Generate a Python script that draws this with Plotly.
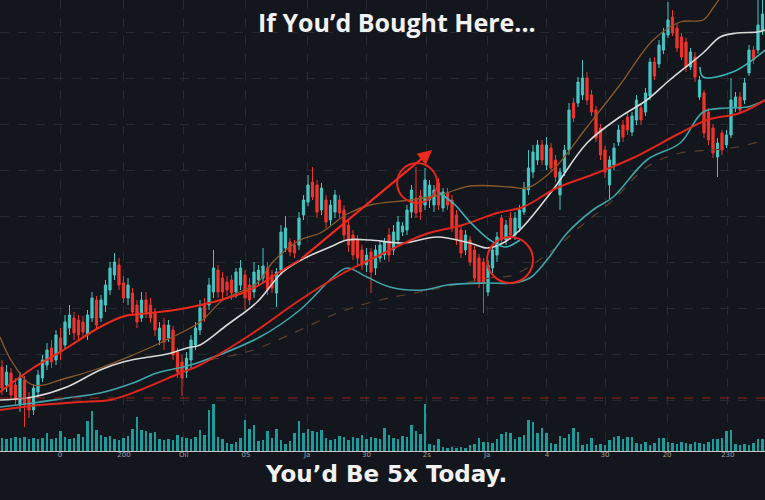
import plotly.graph_objects as go

# ---------------- data (price units) ----------------
candle_idx = list(range(170))

opens = [133,115,127,115,95,120,102,90,108,122,135,152,140,162,155,172,182,180,178,165,
         182,200,182,195,210,225,235,217,202,207,195,182,200,195,188,160,175,162,170,148,
         138,128,140,155,170,195,195,208,230,222,218,220,208,215,225,215,208,220,222,232,
         225,207,230,252,258,255,255,285,298,318,315,290,300,280,288,300,290,275,265,260,
         250,235,248,232,242,245,265,250,260,268,270,288,302,304,295,300,295,317,292,307,
         300,285,270,250,260,250,242,238,208,232,245,282,260,282,265,272,288,310,328,340,
         355,335,352,340,305,328,350,397,397,405,422,405,390,372,350,315,335,358,375,383,
         368,380,392,388,404,438,436,450,465,483,472,463,458,433,443,403,407,388,372,343,
         367,355,365,392,403,400,427,450,450,470]
highs = [140,135,132,122,128,124,108,116,130,145,157,160,170,172,185,195,188,185,184,190,
         208,204,205,220,238,247,242,224,222,212,200,208,208,202,192,178,182,180,174,152,
         145,148,165,178,200,202,222,250,235,228,224,225,232,240,230,222,238,235,252,238,
         230,232,275,284,262,260,288,305,325,333,320,317,305,300,310,305,295,280,270,265,
         255,252,252,255,260,262,272,275,284,278,295,315,333,310,332,320,315,322,312,312,
         305,290,274,270,264,254,246,242,240,255,268,285,280,288,288,295,318,350,355,360,
         360,363,357,345,332,355,397,402,423,440,428,410,394,376,354,344,357,375,380,388,
         388,405,396,412,442,443,460,472,498,490,476,467,462,452,448,424,410,392,376,362,
         370,370,422,408,408,422,455,454,500,500]
lows  = [105,108,100,95,88,73,82,85,102,118,130,132,135,140,150,165,160,160,162,160,
         178,170,178,188,205,220,210,197,195,184,172,178,182,177,164,155,150,158,140,122,
         104,122,132,150,165,178,190,202,202,200,204,200,202,210,190,195,202,215,218,205,
         207,193,225,248,244,242,250,280,294,300,282,285,272,275,282,282,260,248,240,234,
         230,228,207,225,238,240,238,245,255,264,265,282,282,280,290,292,288,290,288,290,
         268,255,242,245,234,218,212,187,204,227,238,255,255,260,260,268,285,305,322,335,
         335,330,328,318,290,324,345,378,393,400,395,384,358,340,322,300,330,354,358,365,
         364,375,375,384,400,420,432,446,462,464,448,440,428,430,418,400,362,355,342,323,
         345,352,362,388,386,396,424,436,446,465]
closes = [112,128,105,100,122,95,90,112,125,140,150,138,165,148,178,185,167,165,168,185,
          202,175,200,215,232,238,215,202,215,188,178,200,188,182,170,172,158,175,145,128,
          122,142,160,172,192,182,215,232,208,208,210,207,228,232,202,200,228,230,234,210,
          212,228,268,272,248,247,282,300,315,303,288,312,278,295,305,287,265,255,245,242,
          235,245,228,250,255,258,245,268,278,274,290,310,287,288,320,315,310,295,308,295,
          272,260,247,265,238,222,217,217,235,250,263,260,275,265,282,290,312,332,348,355,
          340,355,332,323,328,350,390,382,418,422,400,388,362,345,328,340,352,370,363,370,
          384,400,380,407,438,424,455,467,480,467,452,443,433,448,423,420,367,360,347,357,
          350,365,400,403,390,417,450,440,475,486]

volume = [13,12,13,14,13,14,12,13,12,13,18,12,13,20,14,12,13,17,14,30,
          40,21,16,14,15,12,11,13,15,22,34,21,20,18,19,12,11,12,11,16,
          14,13,12,14,21,16,41,47,14,12,8,7,9,13,31,22,26,10,11,20,
          13,22,11,7,10,18,30,18,22,20,19,21,13,11,12,15,14,11,14,13,
          16,12,14,13,12,23,16,13,12,15,14,26,20,17,47,7,6,12,4,3,
          4,3,4,3,6,7,13,9,9,8,12,17,19,18,12,14,16,31,29,18,
          23,18,8,7,15,13,17,23,19,6,7,13,6,7,6,11,14,15,12,14,
          14,8,7,9,6,8,13,13,9,8,7,9,8,7,9,8,7,9,12,12,
          13,20,21,7,6,7,6,8,12,12]

# moving-average style lines: (candle position, price)
red_fast_x = [-0.44, 6.9, 14.4, 21.8, 27.3, 32.9, 38.4, 46.9, 55.1, 62.4, 66.2]
red_fast_y = [108, 132, 152, 173, 184, 187, 190, 198, 210, 230, 240]

red_slow_x = [-0.44, 8.4, 17.3, 24, 30.7, 39.6, 44, 55.1, 66.2, 75.1, 84, 93.6, 102.4, 110,
              115.8, 123.3, 132.2, 140.2, 150.7, 156.7, 164, 169.6]
red_slow_y = [90, 95, 98, 100, 110, 127, 135, 165, 200, 225, 245, 265, 275, 287,
              293, 312, 327, 342, 367, 380, 387, 400]

white_x = [-0.44, 6.9, 14.4, 21.8, 26.9, 31.3, 36.7, 41.1, 44, 50, 56.7, 62.4, 67.8, 72.9,
           76.7, 81.8, 89.1, 96.7, 104, 107.8, 111.3, 115.1, 122.4, 130, 137.3, 143.3,
           148.4, 155.8, 159.6, 163.3, 167.8, 169.6]
white_y = [100, 103, 113, 130, 138, 142, 146, 152, 155, 175, 198, 228, 243, 253,
           260, 260, 257, 263, 257, 252, 257, 270, 310, 357, 383, 400,
           420, 447, 463, 467, 468, 470]

teal_x = [-0.44, 6.9, 14.4, 21.8, 29.1, 34.4, 40.2, 44, 57.3, 66.2, 73.6, 76.7, 81.1, 86.2,
          93.6, 98.9, 107.8, 113.6, 117.3, 121.1, 125.6, 131.3, 135.8, 143.3, 150.7,
          155.8, 161.1, 165.6, 169.6]
teal_y = [93, 97, 102, 107, 117, 127, 133, 138, 163, 190, 223, 232, 223, 213,
          210, 215, 217, 217, 222, 240, 267, 290, 303, 340, 357,
          388, 392, 393, 400]

teal_arc_x = [97.3, 100.7, 104, 108.4, 111.8, 115.1]
teal_arc_y = [307, 295, 278, 260, 253, 260]

teal_right_x = [155.1, 155.8, 162.4, 169.6]
teal_right_y = [433, 423, 428, 450]

brown_x = [-0.44, 2.4, 6.9, 14.4, 21.8, 29.1, 35.1, 44, 49.1, 56.7, 60.2, 66.2, 70.7, 76.7,
           81.8, 90.7, 97.3, 104, 112.9, 116.7, 122.4, 130, 137.3, 144.7, 150.7, 155.8,
           158, 160]
brown_y = [163, 137, 115, 122, 132, 145, 157, 178, 200, 217, 238, 260, 267, 286,
           295, 300, 305, 314, 313, 312, 330, 373, 415, 460, 478, 480, 492, 505]

brown_dash_x = [46.2, 55.8, 66.2, 75.1, 84, 92.9, 108.4, 113.6, 122.4, 128.4, 135.8, 143.3,
                150.7, 158, 163.3, 169.6]
brown_dash_y = [140, 150, 170, 188, 200, 208, 222, 225, 250, 273, 300, 333,
                347, 350, 353, 360]

support_level = 102

tick_pos = [-0.4, 12.9, 27.1, 40.4, 54.2, 67.8, 81, 94.4, 107.8, 121.1, 134, 147.8, 161.3]
tick_text = ["0", "0", "200", "Oil", "05", "Ja", "30", "2s", "Ja", "4", "30", "20", "230"]

# annotation geometry (candle position / price)
circle1 = (87.8, 297, 96.7, 337)
circle2 = (107.8, 217, 118.0, 263)
arrow_tail = (66.2, 240)
arrow_tip = (95.6, 350)

# ---------------- figure ----------------
BG = "#13161c"
TEAL = "#45c6c4"
RED = "#f0342b"

fig = go.Figure()

fig.add_trace(go.Bar(x=candle_idx, y=volume, yaxis="y2", marker_color="#1c9c9a",
                     marker_line_width=0, width=0.55, hoverinfo="skip"))

fig.add_hline(y=support_level, line=dict(color="#9c2019", width=1, dash="dash"))

def add_line(xs, ys, color, width, dash="solid"):
    fig.add_trace(go.Scatter(x=xs, y=ys, mode="lines",
                             line=dict(color=color, width=width, dash=dash, shape="spline",
                                       smoothing=1.0),
                             hoverinfo="skip"))

add_line(brown_dash_x, brown_dash_y, "#5e4128", 1.2, "dash")
add_line(brown_x, brown_y, "#8a5a2c", 1.3)
add_line(teal_x, teal_y, "#3fa5aa", 1.6)
add_line(white_x, white_y, "#d9d9d9", 1.6)
add_line(red_slow_x, red_slow_y, "#e0261d", 2)

fig.add_trace(go.Candlestick(
    x=candle_idx, open=opens, high=highs, low=lows, close=closes,
    increasing=dict(line=dict(color=TEAL, width=1), fillcolor=TEAL),
    decreasing=dict(line=dict(color=RED, width=1), fillcolor=RED),
    whiskerwidth=0, hoverinfo="skip"))

add_line(teal_arc_x, teal_arc_y, "#3cb4b8", 1.6)
add_line(teal_right_x, teal_right_y, "#3cb4b8", 1.6)
add_line(red_fast_x, red_fast_y, "#ee2a1f", 2)

for c in (circle1, circle2):
    fig.add_shape(type="circle", xref="x", yref="y", x0=c[0], y0=c[1], x1=c[2], y1=c[3],
                  line=dict(color="#e8271e", width=2))

fig.add_annotation(x=arrow_tip[0], y=arrow_tip[1], ax=arrow_tail[0], ay=arrow_tail[1],
                   xref="x", yref="y", axref="x", ayref="y", text="", showarrow=True,
                   arrowhead=2, arrowsize=1.3, arrowwidth=2.2, arrowcolor="#ee2a1f",
                   standoff=0, startstandoff=0)

fig.add_annotation(x=0.519, y=0.951, xref="paper", yref="paper", xanchor="center",
                   yanchor="middle", text="<b>If You’d Bought Here...</b>", showarrow=False,
                   font=dict(family="Open Sans", size=25, color="#f2f2f2"))
fig.add_annotation(x=0.505, y=-0.052, xref="paper", yref="paper", xanchor="center",
                   yanchor="middle", text="<b>You’d Be 5x Today.</b>", showarrow=False,
                   font=dict(family="DejaVu Sans", size=23, color="#f2f2f2"))

fig.update_layout(
    width=765, height=500, margin=dict(l=0, r=0, t=0, b=49),
    paper_bgcolor=BG, plot_bgcolor=BG, showlegend=False,
    xaxis=dict(range=[-0.444, 169.556], tickvals=tick_pos, ticktext=tick_text,
               showgrid=True, gridcolor="#262a33", griddash="dash", gridwidth=1,
               rangeslider=dict(visible=False), zeroline=False,
               showline=True, linecolor="#c8c8c8", linewidth=1.2,
               ticks="", ticklabelstandoff=-4,
               tickfont=dict(size=7, color="#a0a0a0", family="DejaVu Sans")),
    yaxis=dict(range=[49, 500], tick0=100, dtick=46, showgrid=True, gridcolor="#262a33",
               griddash="dash", showticklabels=False, zeroline=False, ticks=""),
    yaxis2=dict(range=[0, 451], overlaying="y", visible=False, showgrid=False),
    bargap=0,
)

fig.write_html("out.html", config={"displayModeBar": False},
               post_script="document.body.style.margin='0';document.body.style.background='#13161c';")
